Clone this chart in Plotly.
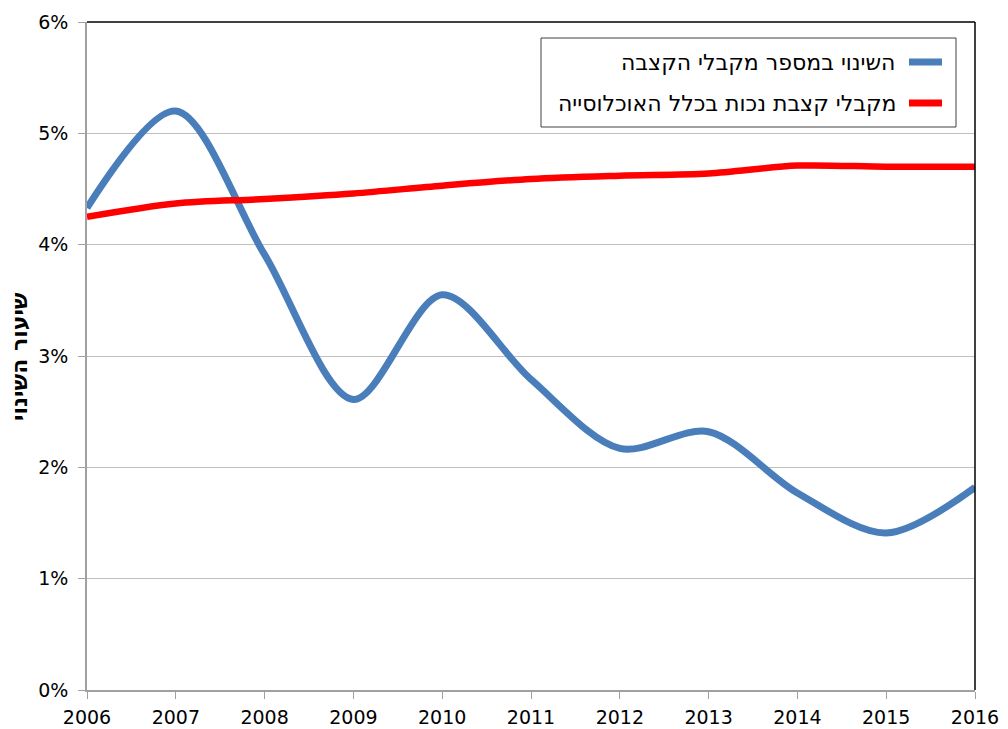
import plotly.graph_objects as go

years = [2006, 2007, 2008, 2009, 2010, 2011, 2012, 2013, 2014, 2015, 2016]
change_recipients = [4.33, 5.20, 3.91, 2.61, 3.55, 2.79, 2.17, 2.32, 1.77, 1.41, 1.82]
disability_pop = [4.25, 4.37, 4.41, 4.46, 4.53, 4.59, 4.62, 4.64, 4.71, 4.70, 4.70]
names = ["השינוי במספר מקבלי הקצבה", "מקבלי קצבת נכות בכלל האוכלוסייה"]
colors = ["#4a7ebb", "#ff0000"]
y_title = "שיעור השינוי"
y_ticks = [0, 1, 2, 3, 4, 5, 6]
y_ticklabels = [f"{v}%" for v in y_ticks]

fig = go.Figure()
for vals, name, col, w in [(change_recipients, names[0], colors[0], 7),
                           (disability_pop, names[1], colors[1], 6.5)]:
    fig.add_trace(go.Scatter(x=years, y=vals, mode="lines", name=name,
                             line=dict(color=col, width=w, shape="spline", smoothing=0.9),
                             showlegend=False))

font = "DejaVu Sans, Verdana, sans-serif"
fig.update_layout(
    width=1008, height=729,
    margin=dict(l=87, r=33, t=22, b=39, autoexpand=False),
    paper_bgcolor="white", plot_bgcolor="white",
    font=dict(family=font, color="#000000", size=19),
    xaxis=dict(range=[2006, 2016], tickvals=years, ticktext=[str(y) for y in years],
               showgrid=False, showline=True, linecolor="#a0a0a0", linewidth=1.5,
               ticks="outside", ticklen=7, tickcolor="#a0a0a0", tickwidth=1,
               zeroline=False, tickfont=dict(size=19), automargin=False,
               ticklabelstandoff=2),
    yaxis=dict(range=[0, 6], tickvals=y_ticks, ticktext=y_ticklabels,
               showgrid=True, gridcolor="#c0c0c0", gridwidth=1,
               showline=True, linecolor="#a0a0a0", linewidth=1.5,
               ticks="outside", ticklen=7, tickcolor="#a0a0a0",
               zeroline=False, tickfont=dict(size=19), automargin=False,
               ticklabelstandoff=6),
)

W, H = 1008 - 87 - 33, 729 - 22 - 39
def px(x): return (x - 87) / W
def py(y): return 1 - (y - 22) / H

# y-axis title
fig.add_annotation(xref="paper", yref="paper", x=px(19), y=py(357), text=f"<b>{y_title}</b>",
                   textangle=-90, showarrow=False, xanchor="center", yanchor="middle",
                   font=dict(size=22, family=font, color="#000000"))

# plot frame top and right (black)
fig.add_shape(type="line", xref="paper", yref="paper", x0=0, x1=1, y0=1, y1=1,
              line=dict(color="#000000", width=1.5))
fig.add_shape(type="line", xref="paper", yref="paper", x0=1, x1=1, y0=0, y1=1,
              line=dict(color="#000000", width=1.5))

# legend box (right-to-left layout: symbol on right of text)
fig.add_shape(type="rect", xref="paper", yref="paper",
              x0=px(541), x1=px(956), y0=py(127), y1=py(38),
              line=dict(color="#404040", width=1), fillcolor="white")
for i, (name, col) in enumerate(zip(names, colors)):
    yy = [62, 103][i]
    fig.add_shape(type="line", xref="paper", yref="paper",
                  x0=px(909), x1=px(942), y0=py(yy), y1=py(yy),
                  line=dict(color=col, width=7))
    fig.add_annotation(xref="paper", yref="paper", x=px(898), y=py(yy),
                       text=name, showarrow=False, xanchor="right", yanchor="middle",
                       font=dict(size=22, family=font, color="#000000"))

fig.write_html("out.html", config={"displayModeBar": False},
               post_script="document.body.style.margin='0';")
